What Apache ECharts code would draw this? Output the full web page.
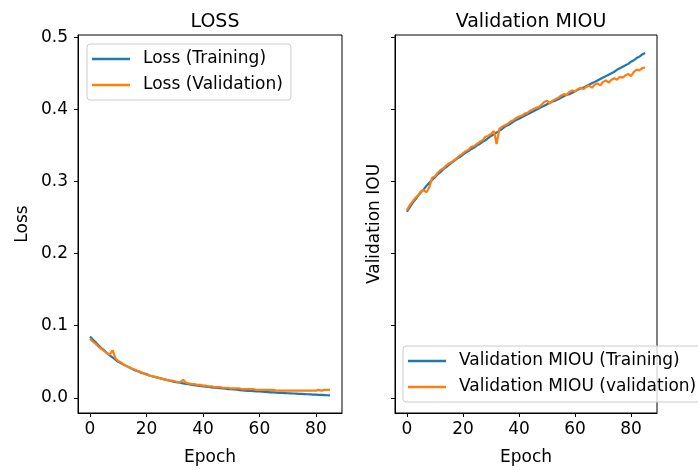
<!DOCTYPE html>
<html>
<head>
<meta charset="utf-8">
<script src="https://cdn.jsdelivr.net/npm/echarts@6/dist/echarts.min.js"></script>
<style>
  html, body { margin: 0; padding: 0; background: #fff; }
  #chart { width: 698px; height: 470px; }
</style>
</head>
<body>
<div id="chart"></div>
<script>
// loss per epoch
const lossTrain = [
  0.085, 0.081, 0.077, 0.073, 0.069, 0.066, 0.062, 0.059, 0.056, 0.053,
  0.050, 0.048, 0.046, 0.044, 0.042, 0.040, 0.038, 0.037, 0.035, 0.034,
  0.033, 0.031, 0.030, 0.029, 0.028, 0.027, 0.026, 0.025, 0.024, 0.023,
  0.022, 0.0215, 0.021, 0.020, 0.0195, 0.019, 0.018, 0.0175, 0.017, 0.0165,
  0.016, 0.0155, 0.015, 0.0145, 0.014, 0.0138, 0.0134, 0.013, 0.0126, 0.0122,
  0.012, 0.0116, 0.0112, 0.0108, 0.0104, 0.010, 0.0098, 0.0095, 0.0093, 0.009,
  0.0088, 0.0085, 0.0082, 0.008, 0.0077, 0.0075, 0.0072, 0.007, 0.0068, 0.0066,
  0.0064, 0.0062, 0.006, 0.0058, 0.0056, 0.0054, 0.0052, 0.005, 0.0048, 0.0046,
  0.0044, 0.0042, 0.004, 0.0038, 0.0036, 0.0034
];
const lossVal = [
  0.082, 0.078, 0.075, 0.071, 0.068, 0.065, 0.062, 0.060, 0.066, 0.055,
  0.051, 0.049, 0.046, 0.044, 0.042, 0.040, 0.039, 0.037, 0.036, 0.034,
  0.032, 0.031, 0.030, 0.029, 0.028, 0.027, 0.026, 0.025, 0.024, 0.024,
  0.023, 0.022, 0.022, 0.025, 0.021, 0.020, 0.019, 0.019, 0.018, 0.018,
  0.017, 0.017, 0.016, 0.016, 0.015, 0.015, 0.015, 0.014, 0.014, 0.014,
  0.013, 0.013, 0.013, 0.013, 0.012, 0.012, 0.012, 0.012, 0.012, 0.011,
  0.011, 0.011, 0.011, 0.011, 0.011, 0.011, 0.010, 0.010, 0.010, 0.010,
  0.010, 0.010, 0.010, 0.010, 0.010, 0.010, 0.010, 0.010, 0.010, 0.010,
  0.010, 0.011, 0.010, 0.011, 0.011, 0.011
];
// mean IoU per epoch
const miouTrain = [
  0.258, 0.264, 0.270, 0.275, 0.280, 0.285, 0.289, 0.294, 0.298, 0.302,
  0.306, 0.310, 0.313, 0.317, 0.320, 0.323, 0.326, 0.329, 0.332, 0.334,
  0.337, 0.340, 0.342, 0.345, 0.347, 0.350, 0.352, 0.355, 0.357, 0.360,
  0.363, 0.365, 0.368, 0.370, 0.373, 0.376, 0.378, 0.380, 0.383, 0.385,
  0.387, 0.389, 0.391, 0.393, 0.395, 0.397, 0.399, 0.401, 0.403, 0.405,
  0.407, 0.409, 0.411, 0.412, 0.414, 0.416, 0.418, 0.420, 0.421, 0.423,
  0.425, 0.427, 0.429, 0.430, 0.432, 0.434, 0.436, 0.438, 0.440, 0.442,
  0.444, 0.446, 0.448, 0.450, 0.452, 0.455, 0.457, 0.459, 0.461, 0.463,
  0.466, 0.468, 0.471, 0.473, 0.476, 0.478
];
const miouVal = [
  0.260, 0.267, 0.272, 0.277, 0.281, 0.286, 0.288, 0.285, 0.292, 0.305,
  0.307, 0.312, 0.316, 0.318, 0.322, 0.325, 0.327, 0.330, 0.333, 0.336,
  0.339, 0.342, 0.344, 0.348, 0.349, 0.352, 0.355, 0.357, 0.362, 0.363,
  0.366, 0.370, 0.352, 0.373, 0.376, 0.378, 0.380, 0.383, 0.385, 0.388,
  0.390, 0.391, 0.394, 0.395, 0.398, 0.400, 0.402, 0.403, 0.406, 0.410,
  0.412, 0.408, 0.412, 0.414, 0.416, 0.419, 0.421, 0.420, 0.424, 0.426,
  0.425, 0.428, 0.430, 0.428, 0.431, 0.433, 0.430, 0.434, 0.436, 0.433,
  0.438, 0.440, 0.437, 0.441, 0.443, 0.441, 0.445, 0.444, 0.447, 0.449,
  0.446, 0.452, 0.455, 0.454, 0.457, 0.458
];
const xTicks = [0, 20, 40, 60, 80];
const yTicks = [0, 0.1, 0.2, 0.3, 0.4, 0.5];

const epochs = lossTrain.map((_, i) => i);
const pairs = (arr) => arr.map((v, i) => [epochs[i], v]);

const BLUE = "#1f77b4";
const ORANGE = "#ff7f0e";
const FONT = "DejaVu Sans";
const FS = 17;

const chart = echarts.init(document.getElementById("chart"), null, { renderer: "canvas" });

function xAxisCfg(gridIndex) {
  return {
    type: "value",
    gridIndex,
    min: -4.25,
    max: 89.25,
    name: "Epoch",
    nameLocation: "middle",
    nameGap: 36,
    nameTextStyle: { color: "#000", fontFamily: FONT, fontSize: FS },
    axisLine: { show: true, onZero: false, lineStyle: { color: "#000", width: 1 } },
    axisTick: { show: true, length: 4, customValues: xTicks, lineStyle: { color: "#000" } },
    axisLabel: { customValues: xTicks, margin: 8, color: "#000", fontFamily: FONT, fontSize: FS },
    splitLine: { show: false },
  };
}

function yAxisCfg(gridIndex, name, showLabels, gap) {
  return {
    type: "value",
    gridIndex,
    min: -0.021,
    max: 0.503,
    name,
    nameLocation: "middle",
    nameGap: gap,
    nameTextStyle: { color: "#000", fontFamily: FONT, fontSize: FS },
    axisLine: { show: true, onZero: false, lineStyle: { color: "#000", width: 1 } },
    axisTick: { show: true, length: 4, customValues: yTicks, lineStyle: { color: "#000" } },
    axisLabel: {
      show: showLabels,
      customValues: yTicks,
      margin: 10,
      color: "#000",
      fontFamily: FONT,
      fontSize: FS,
      formatter: (v) => v.toFixed(1),
    },
    splitLine: { show: false },
  };
}

function lineSeries(name, data, color, idx) {
  return {
    name,
    type: "line",
    xAxisIndex: idx,
    yAxisIndex: idx,
    data: pairs(data),
    showSymbol: false,
    symbol: "none",
    lineStyle: { color, width: 2.2 },
    itemStyle: { color },
    z: 3,
  };
}

// legend text gap is fixed at 5px in echarts, so pad the text instead
const legendBase = {
  orient: "vertical",
  icon: "rect",
  itemWidth: 38,
  itemHeight: 2.5,
  itemGap: 6,
  backgroundColor: "rgba(255,255,255,0.8)",
  borderColor: "#cccccc",
  borderWidth: 1,
  borderRadius: 3,
  textStyle: { color: "#000", fontFamily: FONT, fontSize: FS, lineHeight: 20, padding: [0, 0, 0, 8] },
  selectedMode: false,
};

const option = {
  backgroundColor: "#fff",
  animation: false,
  title: [
    { text: "LOSS", left: 210, top: 8, textAlign: "center",
      textStyle: { color: "#000", fontFamily: FONT, fontSize: 19, fontWeight: "normal" } },
    { text: "Validation MIOU", left: 526, top: 8, textAlign: "center",
      textStyle: { color: "#000", fontFamily: FONT, fontSize: 19, fontWeight: "normal" } },
  ],
  legend: [
    Object.assign({}, legendBase, {
      left: 87, top: 44, padding: [5, 8, 5, 5],
      data: ["Loss (Training)", "Loss (Validation)"],
    }),
    Object.assign({}, legendBase, {
      left: 403, top: 346, padding: [5, 8, 5, 5],
      data: ["Validation MIOU (Training)", "Validation MIOU (validation)"],
    }),
  ],
  grid: [
    { left: 78, top: 35, width: 264, height: 378, show: true, borderColor: "#000", borderWidth: 1,
      backgroundColor: "transparent", containLabel: false, outerBoundsMode: "none" },
    { left: 395, top: 35, width: 262, height: 378, show: true, borderColor: "#000", borderWidth: 1,
      backgroundColor: "transparent", containLabel: false, outerBoundsMode: "none" },
  ],
  xAxis: [xAxisCfg(0), xAxisCfg(1)],
  yAxis: [yAxisCfg(0, "Loss", true, 47), yAxisCfg(1, "Validation IOU", false, 12)],
  series: [
    lineSeries("Loss (Training)", lossTrain, BLUE, 0),
    lineSeries("Loss (Validation)", lossVal, ORANGE, 0),
    lineSeries("Validation MIOU (Training)", miouTrain, BLUE, 1),
    lineSeries("Validation MIOU (validation)", miouVal, ORANGE, 1),
  ],
};

chart.setOption(option);
window.addEventListener("resize", () => chart.resize());
</script>
</body>
</html>
